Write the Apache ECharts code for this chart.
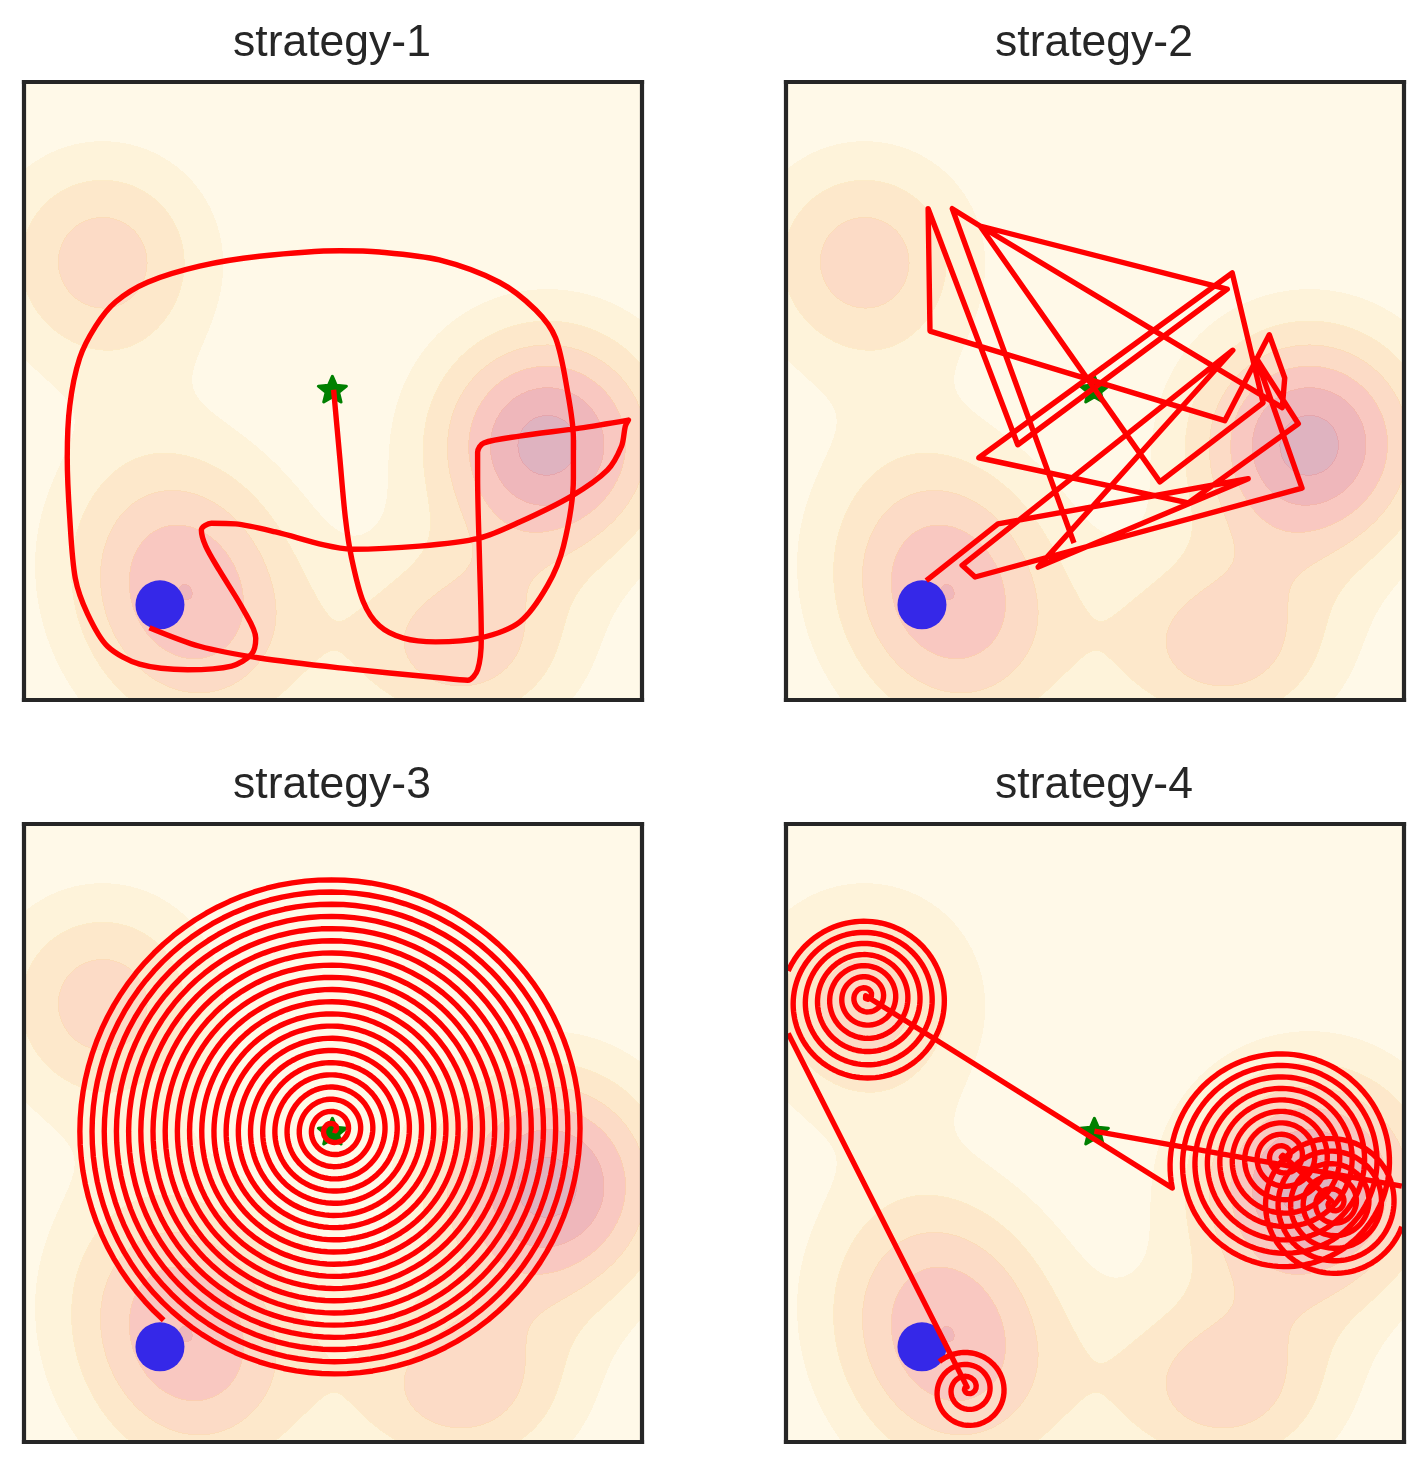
<!DOCTYPE html>
<html><head><meta charset="utf-8">
<script src="https://cdn.jsdelivr.net/npm/echarts@6/dist/echarts.min.js"></script>
<style>html,body{margin:0;padding:0;background:#fff}#c{width:1426px;height:1464px}</style>
</head><body><div id="c"></div>
<script>
// ---------------- data ----------------
const titles = ['strategy-1', 'strategy-2', 'strategy-3', 'strategy-4'];

// landscape: gaussian bumps (unit square, y up)
const bumpX = [0.127, 0.847, 0.261, 0.708];
const bumpY = [0.710, 0.414, 0.175, 0.089];
const bumpSigmaMajor = [0.123, 0.131, 0.165, 0.129];
const bumpSigmaMinor = [0.123, 0.131, 0.132, 0.105];
const bumpAngleDeg = [0, 0, -70, 0];
const bumpAmp = [3.55, 6.4, 5.01, 3.6];
const levelColors = ['#fff9e8', '#fef3da', '#fde8cb', '#fcdbc6', '#f9c8c1', '#efb7bb', '#dfb3c0'];
const levelEdgeColors = ['#fff9e8', '#fdebc8', '#fcdcb9', '#fbceb1', '#f3b6ad', '#e5a6ad', '#cf9cae'];

const startPoint = [0.220, 0.154];
const goalPoint = [0.499, 0.503];

const path1 = [[0.501,0.502],[0.511,0.392],[0.520,0.295],[0.530,0.230],[0.549,0.159],[0.575,0.120],[0.614,0.100],[0.666,0.094],[0.737,0.100],[0.802,0.126],[0.847,0.185],[0.873,0.249],[0.889,0.359],[0.889,0.424],[0.879,0.502],[0.860,0.586],[0.828,0.631],[0.769,0.676],[0.672,0.712],[0.575,0.725],[0.511,0.727],[0.381,0.718],[0.284,0.702],[0.200,0.676],[0.148,0.644],[0.116,0.605],[0.090,0.553],[0.074,0.476],[0.070,0.392],[0.074,0.295],[0.083,0.197],[0.103,0.139],[0.135,0.087],[0.187,0.058],[0.265,0.049],[0.336,0.055],[0.368,0.074],[0.375,0.100],[0.355,0.146],[0.316,0.210],[0.294,0.249],[0.287,0.275],[0.303,0.286],[0.342,0.285],[0.407,0.272],[0.485,0.251],[0.530,0.244],[0.640,0.249],[0.737,0.262],[0.802,0.288],[0.886,0.330],[0.944,0.372],[0.967,0.411],[0.973,0.443],[0.978,0.453],[0.899,0.440],[0.802,0.427],[0.744,0.416],[0.734,0.401],[0.734,0.359],[0.737,0.230],[0.740,0.100],[0.734,0.049],[0.718,0.032],[0.672,0.036],[0.511,0.052],[0.381,0.068],[0.284,0.087],[0.203,0.117]];

const path2 = [[0.227,0.193],[0.343,0.285],[0.748,0.358],[0.408,0.215],[0.723,0.566],[0.285,0.218],[0.306,0.199],[0.835,0.343],[0.761,0.553],[0.829,0.447],[0.651,0.319],[0.312,0.392],[0.722,0.691],[0.772,0.481],[0.605,0.353],[0.314,0.767],[0.803,0.473],[0.807,0.521],[0.782,0.591],[0.710,0.452],[0.233,0.597],[0.230,0.795],[0.375,0.413],[0.714,0.665],[0.314,0.767],[0.269,0.795],[0.466,0.254]];

// strategy-3: one spiral from the goal outwards
const spiral3Center = [0.500, 0.505];
const spiral3End = [0.226, 0.197];
const spiral3Turns = 20.9;
const spiral3Drift = [0, 0];

// strategy-4: several spirals (start centre, end point, turns, direction, drift of ring centre)
const spiral4Centers = [[0.885, 0.387], [0.804, 0.464], [0.129, 0.722], [0.293, 0.089]];
const spiral4Ends = [[1.002, 0.413], [0.625, 0.411], [-0.005, 0.678], [0.248, 0.130]];
const spiral4Turns = [5.9, 9.1, 7.0, 3.0];
const spiral4Outward = [false, true, true, true];
const spiral4Drift = [[0, 0], [0, -0.014], [0, -0.012], [0, -0.010]];

// ---------------- build ----------------
function field(x, y) {
  let s = 0;
  for (let k = 0; k < bumpX.length; k++) {
    const dx = x - bumpX[k], dy = y - bumpY[k];
    const t = bumpAngleDeg[k] * Math.PI / 180;
    const a = dx * Math.cos(t) + dy * Math.sin(t);
    const b = -dx * Math.sin(t) + dy * Math.cos(t);
    s += bumpAmp[k] * Math.exp(-(a * a) / (2 * bumpSigmaMajor[k] ** 2) - (b * b) / (2 * bumpSigmaMinor[k] ** 2));
  }
  return s;
}
const N = 618;
const bands = new Int8Array(N * N);
for (let j = 0; j < N; j++) {
  const v = (j + 0.5) / N;
  for (let i = 0; i < N; i++) {
    bands[j * N + i] = Math.max(0, Math.min(6, Math.floor(field((i + 0.5) / N, v))));
  }
}
function cellCode(i, j) {
  const b = bands[j * N + i];
  if (b > 0) {
    if ((i > 0 && bands[j * N + i - 1] < b) || (i < N - 1 && bands[j * N + i + 1] < b) ||
        (j > 0 && bands[(j - 1) * N + i] < b) || (j < N - 1 && bands[(j + 1) * N + i] < b)) return 7 + b;
  }
  return b;
}
const bgRuns = [];
for (let j = 0; j < N; j++) {
  let start = 0, prev = cellCode(0, j);
  for (let i = 1; i <= N; i++) {
    const c = i < N ? cellCode(i, j) : -1;
    if (c !== prev) { bgRuns.push([start / N, i / N, j / N, (j + 1) / N, prev]); start = i; prev = c; }
  }
}
const allColors = levelColors.concat(['#000']).concat(levelEdgeColors);

function spiralPts(c, end, turns, outward, drift) {
  const dx = end[0] - c[0] - drift[0], dy = end[1] - c[1] - drift[1];
  const R = Math.hypot(dx, dy), th1 = Math.atan2(dy, dx);
  const th0 = th1 - turns * 2 * Math.PI;
  const n = Math.ceil(turns * 120);
  const pts = [];
  for (let i = 0; i <= n; i++) {
    const t = i / n, th = th0 + t * (th1 - th0), r = R * t;
    pts.push([c[0] + drift[0] * t + r * Math.cos(th), c[1] + drift[1] * t + r * Math.sin(th)]);
  }
  return outward ? pts : pts.reverse();
}
// clip a polyline to the plot frame (slightly inset so the stroke stays under the frame line)
const CLIP_LO = 0.0035, CLIP_HI = 1 - 0.0035;
function clipSeg(p, q) {
  let t0 = 0, t1 = 1;
  const dx = q[0] - p[0], dy = q[1] - p[1];
  const P = [-dx, dx, -dy, dy], Q = [p[0] - CLIP_LO, CLIP_HI - p[0], p[1] - CLIP_LO, CLIP_HI - p[1]];
  for (let i = 0; i < 4; i++) {
    if (P[i] === 0) { if (Q[i] < 0) return null; }
    else {
      const r = Q[i] / P[i];
      if (P[i] < 0) { if (r > t1) return null; if (r > t0) t0 = r; }
      else { if (r < t0) return null; if (r < t1) t1 = r; }
    }
  }
  return [[p[0] + t0 * dx, p[1] + t0 * dy], [p[0] + t1 * dx, p[1] + t1 * dy]];
}
function clipPath(pts) {
  const out = []; let last = null;
  for (let i = 0; i < pts.length - 1; i++) {
    const s = clipSeg(pts[i], pts[i + 1]);
    if (!s) continue;
    if (!last || Math.abs(last[0] - s[0][0]) > 1e-12 || Math.abs(last[1] - s[0][1]) > 1e-12) {
      if (out.length) out.push(['-', '-']);
      out.push(s[0]);
    }
    out.push(s[1]); last = s[1];
  }
  return out;
}
const path3 = spiralPts(spiral3Center, spiral3End, spiral3Turns, true, spiral3Drift);
let path4 = [goalPoint.slice()];
for (let k = 0; k < spiral4Centers.length; k++) {
  path4 = path4.concat(spiralPts(spiral4Centers[k], spiral4Ends[k], spiral4Turns[k], spiral4Outward[k], spiral4Drift[k]));
}
const paths = [path1, clipPath(path2), clipPath(path3), clipPath(path4)];

const panelLeft = [24, 786, 24, 786];
const panelTop = [82, 82, 824, 824];
const panelSize = 618;

const starPath = 'path://M0,-1L0.265,-0.364L0.951,-0.309L0.428,0.139L0.588,0.809L0,0.45L-0.588,0.809L-0.428,0.139L-0.951,-0.309L-0.265,-0.364Z';

function renderBg(params, api) {
  const a = api.coord([api.value(0), api.value(3)]);
  const b = api.coord([api.value(1), api.value(2)]);
  const x0 = Math.round(a[0]), y0 = Math.round(a[1]), x1 = Math.round(b[0]), y1 = Math.round(b[1]);
  return { type: 'rect', shape: { x: x0, y: y0, width: x1 - x0, height: y1 - y0 },
           style: { fill: allColors[api.value(4)] }, silent: true };
}

const grid = [], xAxis = [], yAxis = [], series = [], title = [];
const axisLineStyle = { color: '#262626', width: 4.2, cap: 'square' };
for (let k = 0; k < 4; k++) {
  grid.push({ left: panelLeft[k], top: panelTop[k], width: panelSize, height: panelSize });
  ['bottom', 'top'].forEach(p => xAxis.push({ type: 'value', gridIndex: k, min: 0, max: 1, position: p, z: 10,
    axisLine: { show: true, onZero: false, lineStyle: axisLineStyle }, axisTick: { show: false },
    axisLabel: { show: false }, splitLine: { show: false } }));
  ['left', 'right'].forEach(p => yAxis.push({ type: 'value', gridIndex: k, min: 0, max: 1, position: p, z: 10,
    axisLine: { show: true, onZero: false, lineStyle: axisLineStyle }, axisTick: { show: false },
    axisLabel: { show: false }, splitLine: { show: false } }));
  title.push({ text: titles[k], left: panelLeft[k] + panelSize / 2 - 6, textAlign: 'center', top: k >= 2 ? 758 : 16,
    textStyle: { fontFamily: 'Liberation Sans', fontSize: 44.5, fontWeight: 'normal', color: '#262626', lineHeight: 46 } });
  series.push({ type: 'custom', xAxisIndex: 2 * k, yAxisIndex: 2 * k, data: bgRuns, renderItem: renderBg,
    encode: { x: [0, 1], y: [2, 3] }, z: 1, silent: true, progressive: 0, animation: false, clip: true });
  series.push({ type: 'scatter', xAxisIndex: 2 * k, yAxisIndex: 2 * k, data: [startPoint], symbol: 'circle',
    symbolSize: 49, itemStyle: { color: '#3528e8', opacity: 1 }, z: 3, silent: true });
  series.push({ type: 'scatter', xAxisIndex: 2 * k, yAxisIndex: 2 * k, data: [goalPoint], symbol: starPath,
    symbolSize: [28, 27], symbolKeepAspect: true,
    itemStyle: { color: '#008000', borderColor: '#008000', borderWidth: 3, borderJoin: 'round', opacity: 1 }, z: 3, silent: true });
  series.push({ type: 'line', xAxisIndex: 2 * k, yAxisIndex: 2 * k, data: paths[k], showSymbol: false, symbol: 'none',
    smooth: k === 0 ? 0.3 : false, connectNulls: false, clip: true, z: 5, silent: true,
    lineStyle: { color: '#ff0000', width: 5.4, opacity: 1, join: 'round' } });
}

const chart = echarts.init(document.getElementById('c'), null, { renderer: 'canvas', width: 1426, height: 1464 });
chart.setOption({ animation: false, backgroundColor: '#ffffff', title, grid, xAxis, yAxis, series });
</script></body></html>
